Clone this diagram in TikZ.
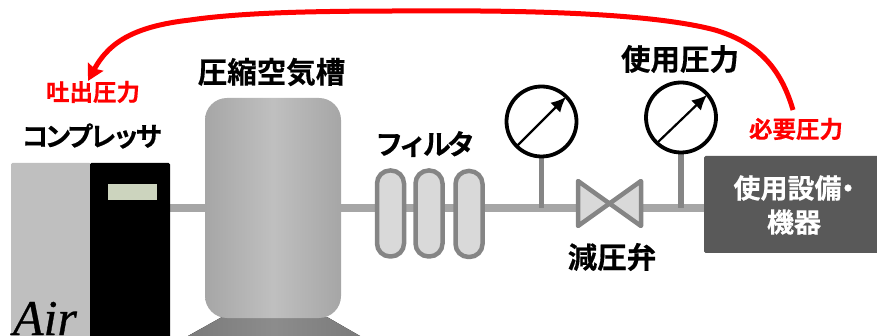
\documentclass[tikz,border=0pt]{standalone}
\usepackage{fontspec}
\setmainfont{Noto Sans CJK JP Bold}[FakeBold=0.4]
\newfontfamily\kanafont{Noto Sans CJK JP Bold}[FakeBold=0.4,LetterSpace=-14]
\newfontfamily\airfont{Liberation Serif Italic}[FakeBold=0.6]
\usetikzlibrary{arrows.meta,backgrounds}
\definecolor{pipec}{HTML}{A6A6A6}
\definecolor{edgec}{HTML}{858585}
\definecolor{fillc}{HTML}{D9D9D9}
\definecolor{redc}{HTML}{FF0000}
\definecolor{dispc}{HTML}{CCD4BE}
\tikzset{
  px/.style={inner sep=0pt,outer sep=0pt},
  boxn/.style={px,anchor=north west,rounded corners=1.5pt},
  pipe/.style={draw=pipec,line width=7.5pt},
  stem/.style={draw=edgec,line width=5.5pt},
  filt/.style={px,draw=edgec,fill=fillc,line width=4.5pt,rounded corners=13pt,minimum width=27pt,minimum height=86pt},
  gauge/.style={px,circle,draw=black,line width=3.8pt,fill=white,minimum size=70pt},
  needle/.style={draw=black,line width=2.2pt,-{Latex[length=15pt,width=14pt]}},
  valvepart/.style={draw=edgec,fill=fillc,line width=4.5pt,line join=round},
  lab/.style={px,text=black,font=\fontsize{29.5}{30}\selectfont},
  kanalab/.style={px,text=black,font=\kanafont\fontsize{28}{28}\selectfont},
  redlab/.style={px,text=redc,font=\fontsize{23.5}{24}\selectfont},
  whitelab/.style={px,text=white,align=center,font=\fontsize{27}{34}\selectfont},
}
\begin{document}
\begin{tikzpicture}[x=1pt,y=-1pt]
\clip (0,0) rectangle (877,336);
% compressor
\node[boxn,fill=black!25,minimum width=80pt,minimum height=180pt] (compL) at (11,163) {};
\node[boxn,fill=black,minimum width=80pt,minimum height=180pt] (compR) at (90,163) {};
\node[px,anchor=north west,fill=dispc,minimum width=49pt,minimum height=16pt] (disp) at (108,184) {};
\node[px,anchor=base west,font=\airfont\fontsize{50}{50}\selectfont,text=black] (air) at (13,335) {Air};
% tank
\fill[left color=black!52,right color=black!52,middle color=black!45] (222,317) -- (327,317) -- (360,336) -- (188,336) -- cycle;
\node[boxn,rounded corners=22pt,minimum width=136pt,minimum height=220pt,
  left color=pipec,right color=pipec,middle color=black!25] (tank) at (205,98) {};
% filters
\node[filt] (f1) at (390.5,213.5) {};
\node[filt] (f2) at (429,213.5) {};
\node[filt] (f3) at (469,214) {};
% gauges
\node[gauge] (g1) at (541.5,121.5) {};
\node[gauge] (g2) at (681,117.5) {};
\coordinate (n1a) at (516.5,146.5);
\coordinate (n1b) at (566,97);
\coordinate (n2a) at (657,143);
\coordinate (n2b) at (707,95);
\draw[needle] (n1a) -- (n1b);
\draw[needle] (n2a) -- (n2b);
% valve
\coordinate (vc) at (609.5,203.5);
\coordinate (vtl) at (578,181);
\coordinate (vbl) at (578,226);
\coordinate (vtr) at (641,181);
\coordinate (vbr) at (641,226);
\draw[valvepart] (vtl) -- (vc) -- (vbl) -- cycle;
\draw[valvepart] (vtr) -- (vc) -- (vbr) -- cycle;
% device
\node[boxn,fill=black!65,minimum width=180pt,minimum height=97pt] (dev) at (704,156) {};
\node[whitelab] (devt) at (794,205) {使用設備\kern-7pt・\kern-7pt\\機器};
% pipes
\coordinate (j1) at (541.5,208);
\coordinate (j2) at (681,208);
\begin{scope}[on background layer]
\draw[pipe] (compR.east |- 0,208) -- (tank.west |- 0,208);
\draw[pipe] (tank.east |- 0,208) -- (f1.west |- 0,208);
\draw[pipe] (f1.west |- 0,208) -- (578,208);
\draw[pipe] (641,208) -- (dev.west |- 0,208);
\draw[stem] (g1.south) -- (j1);
\draw[stem] (g2.south) -- (j2);
\end{scope}
% labels
\node[lab] (ltank) at (271.5,72) {圧縮空気槽};
\node[kanalab,font=\kanafont\fontsize{26.7}{27}\selectfont] (lcomp) at (92,136) {コンプレッサ};
\node[kanalab] (lfilt) at (425,144) {フィルタ};
\node[lab] (luse) at (680,59) {使用圧力};
\node[lab] (lvalve) at (612,257) {減圧弁};
\node[redlab] (lout) at (93,92) {吐出圧力};
\node[redlab] (lreq) at (796,129) {必要圧力};
% red arrow
\coordinate (rs) at (793,110);
\coordinate (re) at (88,81);
\draw[draw=redc,line width=5pt,-{Stealth[length=16pt,width=17pt,inset=2pt]}] (rs)
  .. controls (780,65) and (755,42) .. (715,30)
  .. controls (670,18) and (590,12) .. (480,11)
  .. controls (360,11) and (260,10) .. (190,20)
  .. controls (138,26) and (110,40) .. (re);
\end{tikzpicture}
\end{document}
